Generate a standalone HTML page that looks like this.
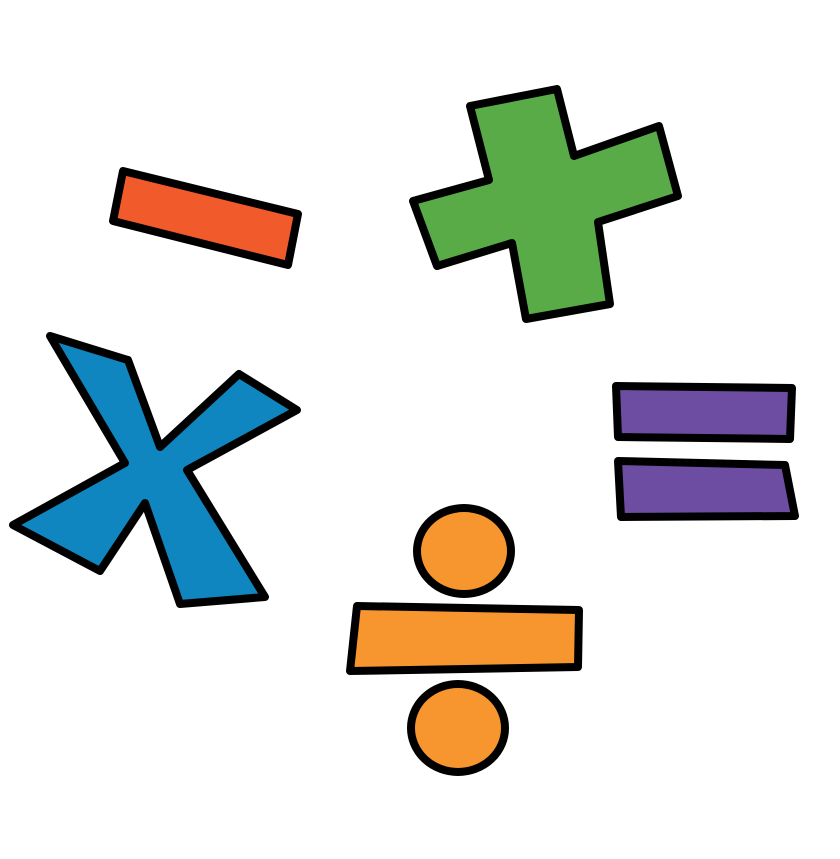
<!DOCTYPE html>
<html><head><meta charset="utf-8"><style>
html,body{margin:0;padding:0;background:#fff;}
svg{display:block;}
</style></head><body>
<svg width="840" height="859" viewBox="0 0 840 859">
<g stroke="#000" stroke-width="8" stroke-linejoin="round">
  <polygon fill="#F15A2B" points="123,171 298,214 288,265 113,221"/>
  <polygon fill="#59AB48" points="470,106 557,89 574,156 659,126 678,196 598,222 610,304 526,319 512,243 437,266 413,201 489,180"/>
  <polygon fill="#0F86BF" points="50,336 128,360 160,447 239,374 297,410 187,470 265,597 180,604 145,503 100,571 13,525 125,463"/>
  <polygon fill="#6C4DA1" points="616,386 792,388 790,439 618,437"/>
  <polygon fill="#6C4DA1" points="618,461 785,465 795,516 621,517"/>
  <ellipse fill="#F7952F" cx="464" cy="551" rx="47" ry="43"/>
  <polygon fill="#F7952F" points="357,606 579,610 578,667 350,671"/>
  <ellipse fill="#F7952F" cx="458" cy="728" rx="47" ry="44"/>
</g>
</svg>
</body></html>
